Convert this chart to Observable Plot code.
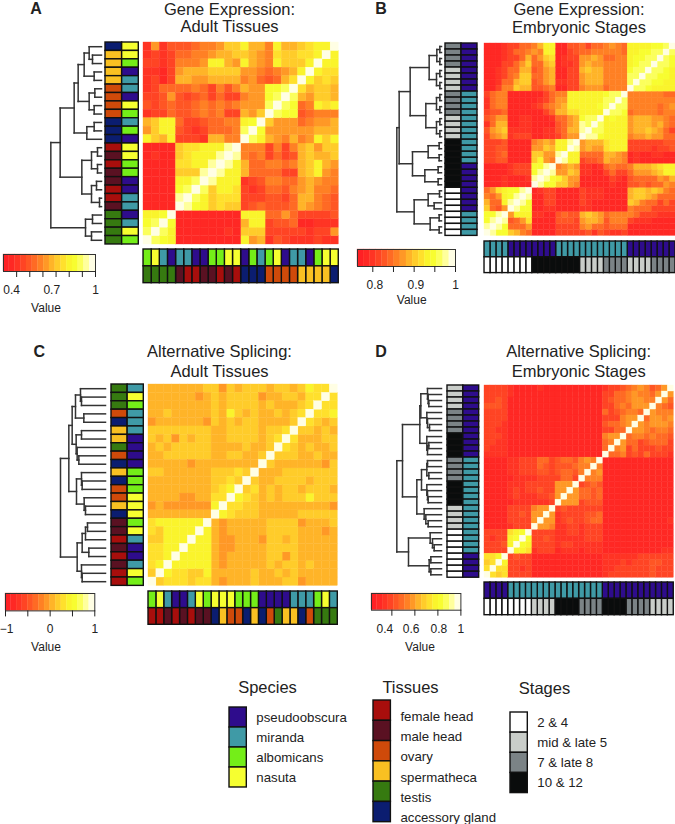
<!DOCTYPE html>
<html>
<head>
<meta charset="utf-8">
<script src="https://cdn.jsdelivr.net/npm/d3@7"></script>
<script src="https://cdn.jsdelivr.net/npm/@observablehq/plot@0.6"></script>
<style>
html,body{margin:0;padding:0;background:#fff}
#page{position:relative;width:675px;height:824px;overflow:hidden;font-family:"Liberation Sans",Arial,sans-serif;color:#222}
#page svg{position:absolute;overflow:visible}
.t{position:absolute;white-space:nowrap;line-height:1;}
</style>
</head>
<body>
<div id="page"></div>
<script>
// ---------- categories ----------
const speciesNames = {p:"pseudoobscura", m:"miranda", a:"albomicans", n:"nasuta"};
const tissueNames = {f:"female head", h:"male head", o:"ovary", s:"spermatheca", t:"testis", g:"accessory gland"};
const stageNames = {1:"2 & 4", 2:"mid & late 5", 3:"7 & late 8", 4:"10 & 12"};
const speciesColors = ["#2e0c8c","#3f9aa6","#74ee18","#f6ff30"];
const tissueColors = ["#a80e0c","#5a1122","#cf4a0a","#f9c022","#367a10","#0b1d70"];
const stageColors = ["#ffffff","#c9cdc9","#7b8386","#0a0c0c"];
const heatRamp = ["#ff2024","#ff2824","#ff3424","#ff4424","#ff5624","#ff6a24","#ff8024","#ff9826",
                  "#ffb428","#ffcc2a","#ffe02c","#faf42c","#f8fd30","#fbff5c","#ffff9c","#fffee4"];

// ---------- panel A: gene expression, adult tissues ----------
const tissueA  = "gssssooooggg fhfhhffh tttt".replace(/ /g,"");
const speciesA = "nnapmmpnamapnnaappmmpmna";
// upper-left triangle of the symmetric matrix, in colour levels 0-f
const levelsA = [
"27244456 67 99 b88 6b88 9abbf","23235566 78 89 987 6a99 aabf","33236667 bb 87 b87 6b99 9bf",
"22137888 99 99 776 5678 bf","23138877 88 88 675 458a f","23555565 36 46 877 ccdf",
"33474345 35 33 677 cdf","43454456 56 56 777 df","23354456 56 33 879 f",
"89bb5334 55 66 bcf","79bb4323 55 56 df","b98b3332 88 66 f",
"11119aab bbef","12119abb bef","1111aabb ef","1111999e f","1111bbdf","1111cdf","1111ef","1111f",
"bbcf","cdf","df","f"];
const treeA = [1.52,
  [1.24,
    [0.82,
      [0.70,
        [0.52,[0.37,0,[0.27,0,0]],[0.22,0,0]],
        [0.37,[0.20,0,0],[0.22,0,0]]],
      [0.44,[0.22,0,0],0]],
    [0.59,
      [0.30,[0.12,0,0],[0.12,0,0]],
      [0.30,[0.15,0,0],[0.06,0,0]]]],
  [0.48,[0.27,0,0],[0.30,0,0]]];

// ---------- panel B: gene expression, embryonic stages ----------
const stageB   = "33332222333322224444444411111111";
const speciesB = "ppppppppmmmmmmmmmmmmppppppppmmmm";
const levelsB = [
"1112 3355 68bb 1144 5355 6765 bbbb ccdf","1112 3556 76bb 1134 5566 6665 bbcc ddf",
"1112 3358 579a 1233 7787 5566 bccd df","1113 3579 5589 1223 7877 6666 bcdd f",
"1123 5588 4578 1133 8988 6666 cddf","1123 5699 5578 1133 7888 6666 ddf",
"1125 5899 4578 2233 7888 6666 df","1136 6988 4456 1133 6777 5666 f",
"3566 1111 1135 66bb bbbb cddf","2566 1111 1235 77bb bbbb ddf",
"2566 1111 2356 78bb bbbc df","3445 1111 1135 88aa bbbb f",
"4577 1122 1112 5578 cddf","2588 1122 1111 4578 edf","4789 2222 1122 4588 ef","3678 2333 1122 3577 f",
"3334 1111 6787 bbef","3344 1111 7798 bbf","3345 1111 9977 ef","3344 1111 9b76 f",
"1111 2333 ccef","1111 2333 cef","1112 1112 ef","1112 1111 f",
"57ab ccef","657b cef","855b ef","9547 f","ccef","cef","ef","f"];
const treeB = [1.34,
  [1.27,
    [0.94,
      [0.37,[0.14,[0.05,0,0],[0.05,0,0]],[0.15,[0.05,0,0],[0.05,0,0]]],
      [0.47,[0.15,[0.05,0,0],[0.05,0,0]],[0.15,[0.05,0,0],[0.05,0,0]]]],
    [0.87,
      [0.40,[0.07,0,0],[0.07,0,0]],
      [0.50,[0.10,0,0],[0.10,0,0]]]],
  [0.82,
    [0.40,[0.06,0,0],[0.22,0,0]],
    [0.34,[0.07,0,0],[0.07,0,0]]]];

// ---------- panel C: alternative splicing, adult tissues ----------
const tissueC  = "tttogsstogsgoosghhfhfhff";
const speciesC = "mnammmppppaaannnanmppmna";
const levelsC = [
"88888889 97 98 999 89 98 9baaf","88888878 98 99 99 78 89 98aaf","88888888 98 99 99 89 88 89af",
"88988888 98 b9 89 88 98 9af","78888887 98 98 99 88 88 9f","99999999 88 99 99 89 9af",
"98979899 88 99 99 89 af","89899999 88 88 98 89f","88999999 88 99 88 9f",
"88888788 88 88 88 f","99888888 99 9a 9f","88888888 99 a9f","88888888 9a bf",
"88887788 aa f","78777777 bf","88888888 f",
"abbbbbbf","a9bbbbf","99bbbf","aabbf","aabf","abf","9f","f"];
const treeC = [1.35,
  [1.10,
    [1.00,
      [0.90,[0.75,0,[0.72,0,0]],[0.65,0,0]],
      [0.88,[0.72,0,0],[0.85,0,[0.80,0,0]]]],
    [0.87,[0.72,0,[0.70,0,0]],[0.64,0,[0.60,0,0]]]],
  [0.85,
    [0.70,[0.60,[0.54,0,0],0],[0.50,0,0]],
    [0.72,0,[0.70,0,0]]]];

// ---------- panel D: alternative splicing, embryonic stages ----------
const stageD   = "22223333444433334444222211111111";
const speciesD = "ppppppppppppmmmmmmmmmmmmmmmmpppp";
const levelsD = [
"3333 2111 1211 1111 1111 2334 5676 457f","3333 2111 1111 1111 1111 3355 6766 57f",
"3343 1111 1111 1111 1111 3455 6776 6f","4443 1111 1111 1111 1111 3356 5777 f",
"3333 1111 1111 1111 1111 5345 665f","3333 1111 1111 1111 1111 3336 77f",
"3332 1111 1111 1111 1111 4556 7f","3322 1111 1111 1111 1111 3355 f",
"3332 1111 1111 1111 1111 677f","3322 1111 1111 1111 1111 56f",
"3222 1111 1111 1111 1111 5f","2222 1111 1111 1111 1111 f",
"1111 2233 3553 4554 676f","1111 2233 3543 4445 66f","1111 2233 3443 4554 6f","1111 1222 2333 3553 f",
"1111 2223 3333 777f","1111 2323 3433 77f","1111 2322 2334 7f","1111 1222 2223 f",
"1111 3333 677f","1111 3343 77f","1111 3333 7f","1111 2333 f",
"3333 abcf","3233 bcf","3334 bf","3333 f","aabf","9af","af","f"];
const treeD = [1.34,
  [1.17,
    [0.65,
      [0.62,
        [0.42,0,[0.40,0,[0.38,0,0]]],
        [0.44,0,[0.42,0,[0.36,0,0]]]],
      [0.44,0,[0.42,[0.38,0,0],0]]],
    [0.74,
      [0.60,
        [0.44,[0.42,0,0],[0.38,0,0]],
        [0.44,0,[0.42,0,[0.40,0,0]]]],
      [0.52,0,[0.47,0,[0.40,0,0]]]]],
  [0.99,
    [0.34,0,[0.27,0,[0.22,0,0]]],
    [0.37,[0.32,0,0],[0.32,0,0]]]];

// ---------- colour-bar ticks ----------
const ticksA = [0.4,0.5,0.6,0.7,0.8,0.9,1], labelsA = [0.4,0.7,1];
const ticksB = [0.8,0.85,0.9,0.95,1],       labelsB = [0.8,0.9,1];
const ticksC = [-1,-0.5,0,0.5,1],           labelsC = [-1,0,1];
const ticksD = [0.4,0.6,0.8,1],             labelsD = [0.4,0.6,0.8,1];

// ---------- layout (page pixels) ----------
const FONT = '"Liberation Sans",Arial,sans-serif';
const panels = [
 {letter:"A",letterX:36,letterY:14.8,title:["Gene Expression:","Adult Tissues"],titleX:229.5,titleY:15,titleGap:17.5,
  levels:levelsA,tree:treeA,side:tissueA,sideNames:tissueNames,species:speciesA,
  heat:[142.7,42.3,195.3,202],sideX:104.7,sideW:33.3,bottomY:249.3,bottomH:33.7,leafX:100.7,
  min:0.3,ticks:ticksA,labels:labelsA,labelDx:[-5,-4.3,0],bar:[3.3,254,92,17],labelY:18,valueX:46,valueY:312},
 {letter:"B",letterX:381,letterY:14.8,title:["Gene Expression:","Embryonic Stages"],titleX:579,titleY:15,titleGap:17.7,
  levels:levelsB,tree:treeB,side:stageB,sideNames:stageNames,species:speciesB,
  heat:[484,43.3,191,192.4],sideX:445.3,sideW:32,bottomY:240.7,bottomH:31.6,leafX:440.7,
  min:0.763,ticks:ticksB,labels:labelsB,labelDx:[2,1.7,0],bar:[357.3,249,98,17],labelY:18,valueX:411.7,valueY:304},
 {letter:"C",letterX:39.3,letterY:357.3,title:["Alternative Splicing:","Adult Tissues"],titleX:219.5,titleY:357.3,titleGap:19.8,
  levels:levelsC,tree:treeC,side:tissueC,sideNames:tissueNames,species:speciesC,
  heat:[148,384.3,189.3,201.4],sideX:111,sideW:32.3,bottomY:590.7,bottomH:33.3,leafX:105,
  min:-1,ticks:ticksC,labels:labelsC,labelDx:[1,0,0],bar:[4.7,593.3,89.3,17.4],labelY:18,valueX:46,valueY:651},
 {letter:"D",letterX:381,letterY:357.3,title:["Alternative Splicing:","Embryonic Stages"],titleX:578.7,titleY:357.3,titleGap:19.8,
  levels:levelsD,tree:treeD,side:stageD,sideNames:stageNames,species:speciesD,
  heat:[484,385,189.3,192.3],sideX:447.3,sideW:31.7,bottomY:582.3,bottomH:32.7,leafX:440.7,
  min:0.223,ticks:ticksD,labels:labelsD,labelDx:[-7,-3.7,1,0],bar:[371.3,593.3,89.4,16.7],labelY:18,valueX:420,valueY:651}
];

// ---------- helpers ----------
const page = document.getElementById("page");
const clean = s => s.replace(/ /g,"");
const base = {margin:0, style:{background:"transparent", fontFamily:FONT, color:"#222", maxWidth:"none"}};
function place(plot, x, y){ plot.style.left = x+"px"; plot.style.top = y+"px"; page.appendChild(plot); }
function label(text, x, baseline, size, opts={}){
  const d = document.createElement("div"); d.className = "t"; d.textContent = text;
  d.style.fontSize = size+"px"; d.style.left = x+"px"; d.style.top = (baseline - size*0.86)+"px";
  d.style.transform = "translateX(-50%)";
  if (opts.bold) d.style.fontWeight = "bold";
  page.appendChild(d);
}
const catDomain = [...Object.values(speciesNames),...Object.values(tissueNames),...Object.values(stageNames)];
const catRange  = [...speciesColors,...tissueColors,...stageColors];
const catColor  = {type:"ordinal", domain:catDomain, range:catRange};

function thresholds(min){
  const step = (1-min)/heatRamp.length;
  return heatRamp.slice(1).map((_,i)=> min + (i+1)*step);
}
function matrixCells(p){
  const rows = p.levels.map(clean), n = rows.length, step = (1-p.min)/heatRamp.length, out = [];
  rows.forEach((row,r)=>{
    [...row].forEach((ch,c)=>{
      const v = p.min + (parseInt(ch,16)+0.5)*step;
      out.push({r,c,v});
      if (c !== n-1-r) out.push({r:n-1-c, c:n-1-r, v});   // symmetric about the anti-diagonal
    });
  });
  return out;
}
function dendroSegments(tree){
  let leaf = 0; const segs = [];
  (function walk(node){
    if (node === 0) return {y:leaf++, h:0};
    const [h,a,b] = node, A = walk(a), B = walk(b);
    segs.push({x1:h,y1:A.y,x2:h,y2:B.y},{x1:h,y1:A.y,x2:A.h,y2:A.y},{x1:h,y1:B.y,x2:B.h,y2:B.y});
    return {y:(A.y+B.y)/2, h};
  })(tree);
  return segs;
}

// ---------- four panels ----------
for (const p of panels){
  const n = p.levels.length, [hx,hy,hw,hh] = p.heat, idx = d3.range(n);
  const colorScale = {type:"threshold", domain:thresholds(p.min), range:heatRamp};

  // heat map
  place(Plot.plot({...base, width:hw, height:hh,
    x:{type:"band",domain:idx,axis:null,padding:0,round:false},
    y:{type:"band",domain:idx,axis:null,padding:0,round:false},
    color:colorScale,
    marks:[Plot.cell(matrixCells(p),{x:"c",y:"r",fill:"v",stroke:"v",strokeWidth:0.35})]}), hx, hy);

  // left annotation bars
  const keys = [...p.side], spec = [...p.species];
  const sideCells = [
    ...keys.map((k,i)=>({col:"a",i,name:p.sideNames[k]})),
    ...spec.map((k,i)=>({col:"b",i,name:speciesNames[k]}))];
  place(Plot.plot({...base, width:p.sideW, height:hh,
    x:{type:"band",domain:["a","b"],axis:null,padding:0,round:false},
    y:{type:"band",domain:idx,axis:null,padding:0,round:false},
    color:catColor,
    marks:[Plot.cell(sideCells,{x:"col",y:"i",fill:"name",stroke:"#111",strokeWidth:1.4})]}), p.sideX, hy);

  // bottom annotation bars (columns are the rows read from the bottom up)
  const bottomCells = [
    ...spec.map((k,i)=>({row:"a",c:n-1-i,name:speciesNames[k]})),
    ...keys.map((k,i)=>({row:"b",c:n-1-i,name:p.sideNames[k]}))];
  place(Plot.plot({...base, width:hw, height:p.bottomH,
    x:{type:"band",domain:idx,axis:null,padding:0,round:false},
    y:{type:"band",domain:["a","b"],axis:null,padding:0,round:false},
    color:catColor,
    marks:[Plot.cell(bottomCells,{x:"c",y:"row",fill:"name",stroke:"#111",strokeWidth:1.4})]}), hx, p.bottomY);

  // dendrogram
  const dw = 90;
  place(Plot.plot({...base, width:dw, height:hh,
    x:{domain:[dw*0.03,0],axis:null},
    y:{domain:[n-0.5,-0.5],axis:null},
    marks:[Plot.link(dendroSegments(p.tree),{x1:"x1",y1:"y1",x2:"x2",y2:"y2",stroke:"#333",strokeWidth:1.5,strokeLinecap:"square"})]}), p.leafX-dw, hy);

  // colour bar
  const [bx,by,bw,bh] = p.bar, pad = 14, step = (1-p.min)/heatRamp.length;
  const bins = heatRamp.map((_,i)=>({a:p.min+i*step,b:p.min+(i+1)*step,v:p.min+(i+0.5)*step}));
  place(Plot.plot({...base, width:bw+2*pad, height:bh+30,
    marginLeft:pad, marginRight:pad, marginTop:0, marginBottom:30,
    x:{domain:[p.min,1]},
    y:{domain:[0,1],axis:null},
    color:colorScale,
    marks:[
      Plot.rect(bins,{x1:"a",x2:"b",y1:0,y2:1,fill:"v",stroke:"v",strokeWidth:0.3}),
      Plot.frame({stroke:"#333",strokeWidth:1}),
      Plot.axisX({ticks:p.ticks,tickSize:6,tickFormat:()=>"",label:null,stroke:"#222",strokeWidth:1}),
      ...p.labels.map((v,i)=>Plot.axisX({ticks:[v],tickSize:0,tickPadding:p.labelY-4,dx:p.labelDx[i],label:null,fontSize:12,
        tickFormat:d=>d<0?"\u2212"+(-d):String(d)}))
    ]}), bx-pad, by);
  label("Value", p.valueX, p.valueY, 12);

  // titles
  label(p.letter, p.letterX, p.letterY, 16, {bold:true});
  label(p.title[0], p.titleX, p.titleY, 16.5);
  label(p.title[1], p.titleX, p.titleY+p.titleGap, 16.5);
}

// ---------- category legends ----------
function catLegend(title,names,colors,x,y,w,h,titleX,titleY,dy){
  place(Plot.plot({...base, width:w+130, height:h+2, marginRight:130, marginTop:1, marginBottom:1,
    x:{type:"band",domain:["k"],axis:null,padding:0,round:false},
    y:{type:"band",domain:names,padding:0,round:false,label:null,axis:null},
    color:{type:"ordinal",domain:names,range:colors},
    marks:[
      Plot.cell(names,{x:()=>"k",y:d=>d,fill:d=>d,stroke:"#111",strokeWidth:1.4}),
      Plot.axisY({anchor:"right",tickSize:0,tickPadding:9.5,fontSize:13.25,dy,label:null})
    ]}), x, y-1);
  label(title,titleX,titleY,16.5);
}
catLegend("Species",Object.values(speciesNames),speciesColors,229,706.7,17.3,80,267.5,693.3,0.5);
catLegend("Tissues",Object.values(tissueNames),tissueColors,373.3,700,17.4,121.7,410.5,692.7,6);
catLegend("Stages",Object.values(stageNames),stageColors,510,711.7,17.3,80.6,544.5,694.3,0);
</script>
</body>
</html>
